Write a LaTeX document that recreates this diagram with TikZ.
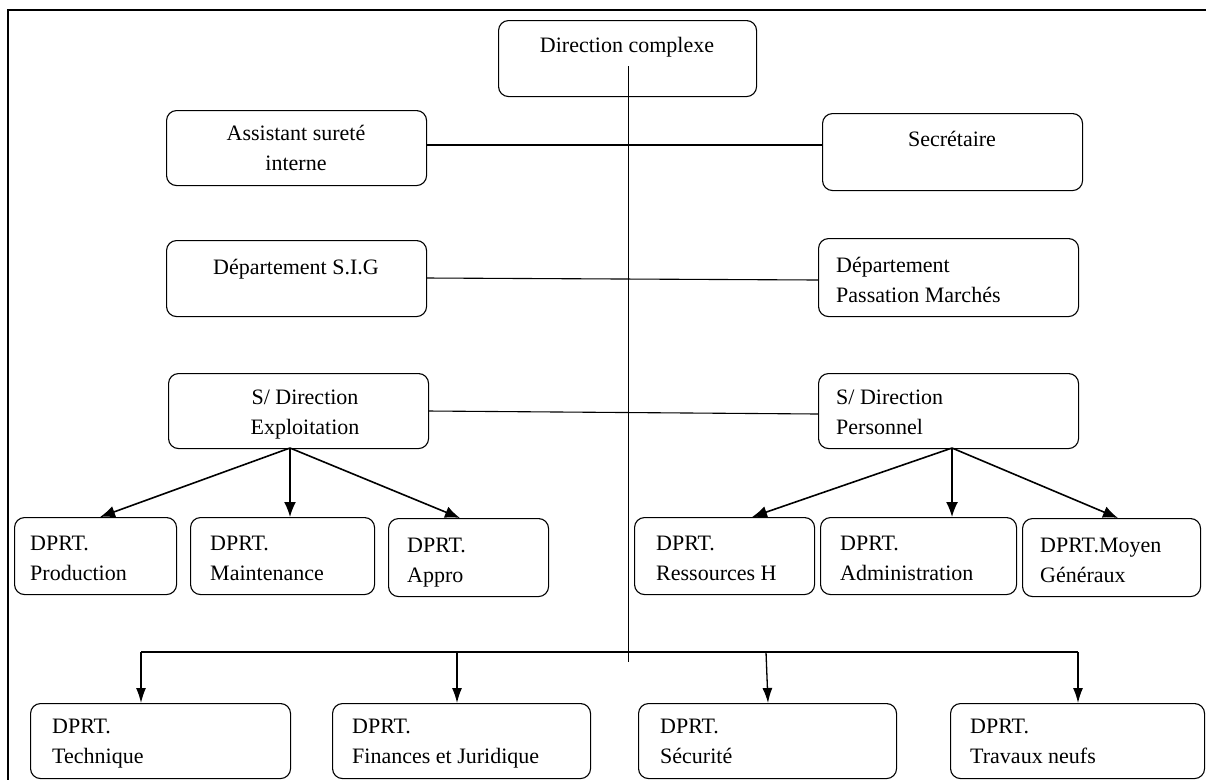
\documentclass[tikz,border=0pt]{standalone}
\usepackage{fontspec}
\setmainfont{Liberation Serif}
\usetikzlibrary{arrows.meta}
\tikzset{
  box/.style={draw, rounded corners=10pt, line width=1.1pt, inner sep=0pt, anchor=north west},
  txt/.style={inner sep=0pt, font=\fontsize{22}{30}\selectfont},
  ctxt/.style={txt, anchor=north, align=center},
  ltxt/.style={txt, anchor=north west, align=left},
  link/.style={line width=1.1pt},
  spine/.style={line width=0.9pt},
  arr/.style={line width=1.6pt, -{Latex[length=15pt,width=12pt]}},
  darr/.style={line width=1.3pt, -{Latex[length=15pt,width=10pt]}}
}
\begin{document}
\begin{tikzpicture}[x=1pt,y=-1pt]
\useasboundingbox (0,0) rectangle (1206,780);
\clip (0,0) rectangle (1206,780);
% frame
\coordinate (f1) at (1206,10);
\coordinate (f2) at (8,10);
\coordinate (f3) at (8,780);
\draw[line width=1.1pt] (f1) -- (f2) -- (f3);

% top
\node[box, minimum width=258pt, minimum height=76pt] (dc) at (498,20) {};
\node[ctxt] (dct) at (627,37) {Direction complexe};

\node[box, minimum width=260pt, minimum height=75pt] (asi) at (166,110) {};
\node[ctxt] (asit) at (296,125) {Assistant sureté\\interne};
\node[box, minimum width=260pt, minimum height=77pt] (sec) at (822,113) {};
\node[ctxt] (sect) at (952,131) {Secrétaire};

\node[box, minimum width=260pt, minimum height=76pt] (sig) at (166,240) {};
\node[ctxt] (sigt) at (296,259) {Département S.I.G};
\node[box, minimum width=260pt, minimum height=78pt] (dpm) at (818,238) {};
\node[ltxt] (dpmt) at (836,257) {Département\\Passation Marchés};

\node[box, minimum width=260pt, minimum height=75pt] (sde) at (168,373) {};
\node[ctxt] (sdet) at (305,390) {S/ Direction\\Exploitation};
\node[box, minimum width=260pt, minimum height=75pt] (sdp) at (818,373) {};
\node[ltxt] (sdpt) at (836,390) {S/ Direction\\Personnel};

% second level
\node[box, minimum width=162pt, minimum height=77pt] (prod) at (14,517) {};
\node[ltxt] (prodt) at (30,536) {DPRT.\\Production};
\node[box, minimum width=184pt, minimum height=77pt] (main) at (190,517) {};
\node[ltxt] (maint) at (210,536) {DPRT.\\Maintenance};
\node[box, minimum width=160pt, minimum height=78pt] (appro) at (388,518) {};
\node[ltxt] (approt) at (407,538) {DPRT.\\Appro};

\node[box, minimum width=180pt, minimum height=77pt] (rh) at (634,517) {};
\node[ltxt] (rht) at (656,536) {DPRT.\\Ressources H};
\node[box, minimum width=196pt, minimum height=77pt] (adm) at (820,517) {};
\node[ltxt] (admt) at (840,536) {DPRT.\\Administration};
\node[box, minimum width=178pt, minimum height=78pt] (mg) at (1022,518) {};
\node[ltxt] (mgt) at (1040,538) {DPRT.Moyen\\Généraux};

% bottom
\node[box, minimum width=260pt, minimum height=75pt] (tec) at (30,703) {};
\node[ltxt] (tect) at (52,719) {DPRT.\\Technique};
\node[box, minimum width=258pt, minimum height=75pt] (fin) at (332,703) {};
\node[ltxt] (fint) at (352,719) {DPRT.\\Finances et Juridique};
\node[box, minimum width=258pt, minimum height=75pt] (secu) at (638,703) {};
\node[ltxt] (secut) at (660,719) {DPRT.\\Sécurité};
\node[box, minimum width=254pt, minimum height=75pt] (tn) at (950,703) {};
\node[ltxt] (tnt) at (970,719) {DPRT.\\Travaux neufs};

% central spine
\coordinate (vtop) at (628,66);
\coordinate (vbot) at (628,662);
\draw[spine] (vtop) -- (vbot);

% horizontal links
\coordinate (l1a) at (426,145);
\coordinate (l1b) at (822,145);
\draw[link] (l1a) -- (l1b);
\coordinate (l2a) at (426,278);
\coordinate (l2b) at (818,280);
\draw[link] (l2a) -- (l2b);
\coordinate (l3a) at (428,411);
\coordinate (l3b) at (818,414);
\draw[link] (l3a) -- (l3b);

% arrows exploitation
\coordinate (se) at (290,448);
\coordinate (seP) at (100,517);
\coordinate (seM) at (290,517);
\coordinate (seA) at (460,518);
\draw[arr] (se) -- (seP);
\draw[arr] (se) -- (seM);
\draw[arr] (se) -- (seA);

% arrows personnel
\coordinate (sp) at (952,448);
\coordinate (spR) at (752,517);
\coordinate (spA) at (952,517);
\coordinate (spM) at (1118,518);
\draw[arr] (sp) -- (spR);
\draw[arr] (sp) -- (spA);
\draw[arr] (sp) -- (spM);

% bottom distribution
\coordinate (b1) at (141,652);
\coordinate (b4) at (1078,652);
\draw[link] (b1) -- (b4);
\coordinate (b2) at (457,652);
\coordinate (b3) at (766,652);
\coordinate (t1) at (141,703);
\coordinate (t2) at (457,703);
\coordinate (t3) at (768,703);
\coordinate (t4) at (1078,703);
\draw[darr] (b1) -- (t1);
\draw[darr] (b2) -- (t2);
\draw[darr] (b3) -- (t3);
\draw[darr] (b4) -- (t4);
\end{tikzpicture}
\end{document}
